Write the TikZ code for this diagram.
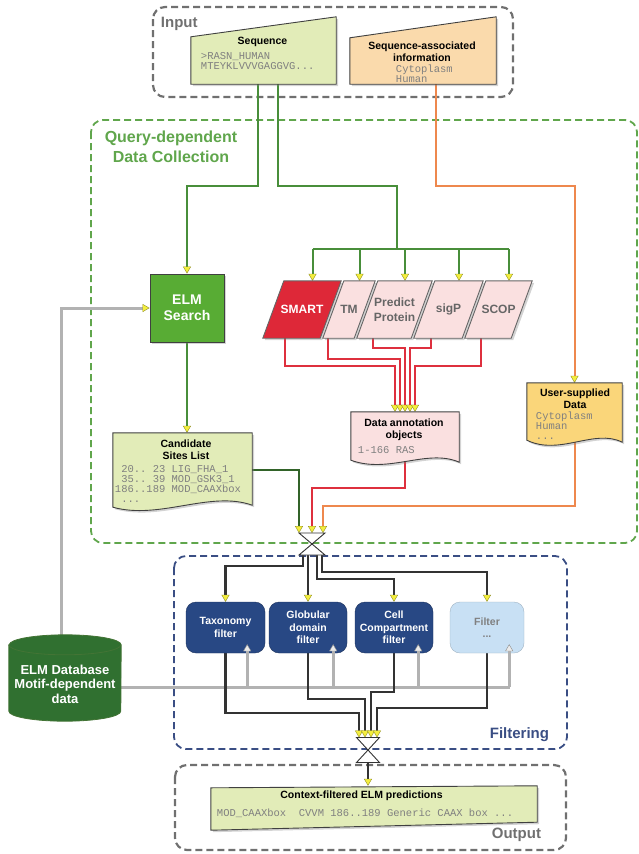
\documentclass[tikz,border=0pt]{standalone}
\usepackage{fontspec}
\setsansfont{Liberation Sans}
\setmonofont{Liberation Mono}
\usetikzlibrary{arrows.meta}
\usetikzlibrary{calc}
\usetikzlibrary{shadows}
\pgfdeclarelayer{bg}
\pgfdeclarelayer{shp}
\pgfsetlayers{bg,shp,main}

\definecolor{inGray}{RGB}{112,112,112}
\definecolor{qGreen}{RGB}{96,166,76}
\definecolor{fBlue}{RGB}{58,78,132}
\definecolor{lnGreen}{RGB}{72,142,58}
\definecolor{lnOrange}{RGB}{238,136,78}
\definecolor{lnRed}{RGB}{222,48,62}
\definecolor{tipYellow}{RGB}{244,238,62}
\definecolor{seqFill}{RGB}{226,236,184}
\definecolor{infoFill}{RGB}{250,218,172}
\definecolor{userFill}{RGB}{250,214,122}
\definecolor{pinkFill}{RGB}{250,224,224}
\definecolor{smartRed}{RGB}{222,40,56}
\definecolor{elmGreen}{RGB}{88,172,52}
\definecolor{dbGreen}{RGB}{48,112,48}
\definecolor{filtBlue}{RGB}{40,72,132}
\definecolor{filtLight}{RGB}{200,224,244}
\definecolor{monoGray}{RGB}{128,128,128}

\tikzset{
  every node/.style={inner sep=0.75pt},
  hd/.style={font=\sffamily\bfseries\fontsize{10.5}{12}\selectfont, align=center},
  mono/.style={font=\ttfamily\fontsize{10.5}{10}\selectfont, text=monoGray, anchor=west, align=left},
  section/.style={font=\sffamily\bfseries\fontsize{15}{19}\selectfont},
  area/.style={rounded corners=12pt, dash pattern=on 7pt off 4pt, line width=1.8pt},
  box/.style={draw=black!75, line width=0.9pt, drop shadow={shadow xshift=2pt, shadow yshift=-2pt, opacity=0.35}},
  tool/.style={minimum height=57, font=\sffamily\bfseries\fontsize{12}{14.5}\selectfont, text=black!60, align=center},
  filter/.style={draw=filtBlue!70!black, fill=filtBlue, rounded corners=10pt, minimum height=51,
    text=white, font=\sffamily\bfseries\fontsize{10.5}{12.5}\selectfont, align=center},
  junc/.style={draw=black!80, fill=white, line width=0.9pt},
  link/.style={line width=2pt},
  bline/.style={draw=black!80, line width=2.2pt},
  gline/.style={draw=black!30, line width=3pt},
  ytip/.style={-{Triangle[length=7pt, width=8pt, line width=0.4pt, color=tipYellow!60!black, fill=tipYellow]}},
  gtip/.style={-{Triangle[length=7pt, width=8pt, line width=0.4pt, color=black!45, fill=black!8]}}
}

\begin{document}
\begin{tikzpicture}[x=1pt,y=1pt,yscale=-1,xscale=1]
\useasboundingbox (0,0) rectangle (639,854);

% Input
\node[section, text=inGray, anchor=base west] (inlbl) at (160,27) {Input};
\node[minimum width=145, minimum height=67] (seq) at (263.5,50.5) {};
\node[hd] (seqtitle) at (262.5,42) {Sequence};
\node[mono] (seqtxt) at (200,61) {>RASN\_HUMAN\\MTEYKLVVVGAGGVG...};
\node[minimum width=146, minimum height=67] (info) at (423,50.5) {};
\node[hd] (infotitle) at (422,51.5) {Sequence-associated\\information};
\node[mono] (infotxt) at (395,74) {Cytoplasm\\Human};

% Query-dependent Data Collection
\node[section, font=\sffamily\bfseries\fontsize{16}{20}\selectfont, text=qGreen, align=center] (qlbl) at (171,147) {Query-dependent\\Data Collection};
\node[box, fill=elmGreen, minimum width=74, minimum height=68, text=white,
  font=\sffamily\bfseries\fontsize{14}{16}\selectfont, align=center] (elm) at (187,308) {ELM\\Search};
\node[tool, minimum width=57, text=white] (smart) at (302,309.5) {SMART};
\node[tool, minimum width=31] (tm) at (349,309.5) {TM};
\node[tool, minimum width=54] (pp) at (394.5,309.5) {Predict\\Protein};
\node[tool, minimum width=48] (sigp) at (448.5,309.5) {sigP};
\node[tool, minimum width=46] (scop) at (498.5,309.5) {SCOP};
\coordinate (dist) at ($(pp.north)+(2.5,-32)$);
\node[minimum width=108, minimum height=48] (annot) at (405,436) {};
\node[hd] (annottitle) at (404,430) {Data annotation\\objects};
\node[mono] (annottxt) at (357,450) {1-166 RAS};
\node[minimum width=139, minimum height=74] (cand) at (182.5,470) {};
\node[hd] (candtitle) at (186,450) {Candidate\\Sites List};
\node[mono] (candtxt) at (114,484) {~20..~23 LIG\_FHA\_1\\~35..~39 MOD\_GSK3\_1\\186..189 MOD\_CAAXbox\\~...};
\node[minimum width=95, minimum height=57] (user) at (574.5,411.5) {};
\node[hd] (usertitle) at (575,398.5) {User-supplied\\Data};
\node[mono] (usertxt) at (535,426) {Cytoplasm\\Human\\...};
\coordinate (j1) at (312,544);

% Filtering
\node[filter, minimum width=79] (taxo) at (225.5,627.5) {Taxonomy\\filter};
\node[filter, minimum width=78] (glob) at (308,627.5) {Globular\\domain\\filter};
\node[filter, minimum width=78] (cell) at (394,627.5) {Cell\\Compartment\\filter};
\node[filter, minimum width=74, fill=filtLight, draw=filtLight!80!black, text=black!50] (filt) at (487,627.5) {Filter\\...};
\node[section, text=fBlue, anchor=base east] (flbl) at (550,738) {Filtering};
\node[minimum width=112, minimum height=86] (db) at (65,678) {};
\node[text=white, font=\sffamily\bfseries\fontsize{13}{14.5}\selectfont, align=center] (dbtxt) at (65,684) {ELM Database\\Motif-dependent\\data};
\coordinate (j2) at (368,750);

% Output
\node[minimum width=326, minimum height=40] (out) at (374,806) {};
\node[hd] (outtitle) at (361.5,796) {Context-filtered ELM predictions};
\node[mono] (outtxt) at (216,813) {MOD\_CAAXbox~~CVVM 186..189 Generic CAAX box ...};
\node[section, text=inGray, anchor=base east] (olbl) at (542,838) {Output};

% gray arrows into the filters
\draw[gline, gtip] ($(taxo.south east)+(-18,34)$) -- ($(taxo.south east)+(-18,-9)$);
\draw[gline, gtip] ($(glob.south east)+(-14,34)$) -- ($(glob.south east)+(-14,-9)$);
\draw[gline, gtip] ($(cell.south east)+(-15,34)$) -- ($(cell.south east)+(-15,-9)$);
\draw[gline, gtip] ($(filt.south east)+(-15,34)$) -- ($(filt.south east)+(-15,-9)$);

\begin{pgfonlayer}{shp}
%Input shapes
\draw[box, fill=seqFill] (seq.south west) -- (seq.south east) -- (seq.north east) -- ($(seq.north west)+(0,20)$) -- cycle;
\draw[box, fill=infoFill] (info.south west) -- (info.south east) -- (info.north east) -- ($(info.north west)+(0,21)$) -- cycle;
%Tools
\draw[box, draw=black!60, fill=smartRed] ([xshift=10.5pt]smart.north west) -- ([xshift=10.5pt]smart.north east) -- ([xshift=-10.5pt]smart.south east) -- ([xshift=-10.5pt]smart.south west) -- cycle;
\draw[box, draw=black!60, fill=pinkFill] ([xshift=10.5pt]tm.north west) -- ([xshift=10.5pt]tm.north east) -- ([xshift=-10.5pt]tm.south east) -- ([xshift=-10.5pt]tm.south west) -- cycle;
\draw[box, draw=black!60, fill=pinkFill] ([xshift=10.5pt]pp.north west) -- ([xshift=10.5pt]pp.north east) -- ([xshift=-10.5pt]pp.south east) -- ([xshift=-10.5pt]pp.south west) -- cycle;
\draw[box, draw=black!60, fill=pinkFill] ([xshift=10.5pt]sigp.north west) -- ([xshift=10.5pt]sigp.north east) -- ([xshift=-10.5pt]sigp.south east) -- ([xshift=-10.5pt]sigp.south west) -- cycle;
\draw[box, draw=black!60, fill=pinkFill] ([xshift=10.5pt]scop.north west) -- ([xshift=10.5pt]scop.north east) -- ([xshift=-10.5pt]scop.south east) -- ([xshift=-10.5pt]scop.south west) -- cycle;
%Documents
\draw[box, fill=pinkFill] (annot.south west) -- (annot.north west) -- (annot.north east) -- ($(annot.south east)+(0,2)$) .. controls ($(annot.south east)+(-32,-12)$) and ($(annot.south west)+(38,14)$) .. (annot.south west) -- cycle;
\draw[box, fill=seqFill] (cand.south west) -- (cand.north west) -- (cand.north east) -- ($(cand.south east)+(0,-2)$) .. controls ($(cand.south east)+(-42,-17)$) and ($(cand.south west)+(47,13)$) .. (cand.south west) -- cycle;
\draw[box, fill=userFill] (user.south west) -- (user.north west) -- (user.north east) -- ($(user.south east)+(0,2)$) .. controls ($(user.south east)+(-28,-12)$) and ($(user.south west)+(33,16)$) .. (user.south west) -- cycle;
%Database
\draw[fill=dbGreen, draw=qGreen!70!black, line width=0.8pt] ($(db.north west)+(0,10)$) -- ($(db.south west)+(0,-10)$) arc[start angle=180, end angle=0, x radius=56, y radius=10] -- ($(db.north east)+(0,10)$) arc[start angle=0, end angle=-180, x radius=56, y radius=10] -- cycle;
\draw[draw=qGreen!70!black, line width=0.8pt] ($(db.north west)+(0,10)$) arc[start angle=180, end angle=0, x radius=56, y radius=10];
%Junctions
\draw[junc] ($(j1)+(-13,-11)$) -- ($(j1)+(13,-11)$) -- ($(j1)+(-13,11)$) -- ($(j1)+(13,11)$) -- cycle;
\draw[junc] ($(j2)+(-11.5,-12.5)$) -- ($(j2)+(11.5,-12.5)$) -- ($(j2)+(-11.5,12.5)$) -- ($(j2)+(11.5,12.5)$) -- cycle;
%Output
\draw[box, fill=seqFill] ($(out.north west)+(0,2)$) -- (out.north east) -- ($(out.south east)+(0,-4)$) -- ($(out.south west)+(0,4)$) -- cycle;
\end{pgfonlayer}

\begin{pgfonlayer}{bg}
%Areas
\draw[area, inGray, line width=2.2pt] (153,7) rectangle (513,97);
\draw[area, qGreen] (91,120) rectangle (637,543);
\draw[area, fBlue] (174,556) rectangle (567,749);
\draw[area, inGray, line width=2.2pt] (175,765) rectangle (566,850);

%Inputs to collection
\draw[link, lnGreen, ytip] ([xshift=-5.5pt]seq.south) -- ++(0,102) -| (elm.north);
\draw[link, lnGreen] ([xshift=14.5pt]seq.south) -- ++(0,102) -| (dist);
\draw[link, lnOrange, ytip] ([xshift=13pt]info.south) -- ++(0,102) -| (user.north);
\draw[link, lnGreen] ($(smart.north)+(10.5,-32)$) -- ($(scop.north)+(10.5,-32)$);
\draw[link, lnGreen, ytip] ($(smart.north)+(10.5,-32)$) -- ($(smart.north)+(10.5,0)$);
\draw[link, lnGreen, ytip] ($(tm.north)+(10.5,-32)$) -- ($(tm.north)+(10.5,0)$);
\draw[link, lnGreen, ytip] ($(pp.north)+(10.5,-32)$) -- ($(pp.north)+(10.5,0)$);
\draw[link, lnGreen, ytip] ($(sigp.north)+(10.5,-32)$) -- ($(sigp.north)+(10.5,0)$);
\draw[link, lnGreen, ytip] ($(scop.north)+(10.5,-32)$) -- ($(scop.north)+(10.5,0)$);

%Tools to annotation objects
\draw[link, lnRed, ytip] ([xshift=-17pt]smart.south) |- ($(annot.north)+(-10,-46)$) -- ($(annot.north)+(-10,0)$);
\draw[link, lnRed, ytip] ([xshift=-21pt]tm.south) |- ($(annot.north)+(-5,-53)$) -- ($(annot.north)+(-5,0)$);
\draw[link, lnRed, ytip] ([xshift=-22pt]pp.south) |- ($(annot.north)+(0,-64)$) -- ($(annot.north)+(0,0)$);
\draw[link, lnRed, ytip] ([xshift=-18pt]sigp.south) |- ($(annot.north)+(5,-64)$) -- ($(annot.north)+(5,0)$);
\draw[link, lnRed, ytip] ([xshift=-18pt]scop.south) |- ($(annot.north)+(10,-46)$) -- ($(annot.north)+(10,0)$);

%Search and collection to junction
\draw[link, lnGreen, ytip] (elm.south) -- (elm.south |- cand.north);
\draw[link, lnGreen!70!black, ytip] (cand.east) -| ($(j1)+(-13,-11)$);
\draw[link, lnRed, ytip] (annot.south) -- ++(0,28) -| ($(j1)+(0,-11)$);
\draw[link, lnOrange, ytip] (user.south) -- ++(0,66) -| ($(j1)+(11,-11)$);

%Database
\draw[gline, ytip] ($(db.north)+(-4,0)$) |- (elm.west);
\draw[gline] ($(db.east)+(0,9)$) -- ++(389,0);

%Filtering
\draw[bline, ytip] ($(j1)+(-9,11)$) -- ++(0,11) -| (taxo.north);
\draw[bline, ytip] ($(j1)+(-4,11)$) -- (glob.north);
\draw[bline, ytip] ($(j1)+(5,11)$) -- ++(0,24) -| (cell.north);
\draw[bline, ytip] ($(j1)+(10,11)$) -- ++(0,17) -| (filt.north);
\draw[bline, ytip] (taxo.south) |- ($(j2)+(-9,-37)$) -- ($(j2)+(-9,-12.5)$);
\draw[bline, ytip] (glob.south) |- ($(j2)+(-3,-51)$) -- ($(j2)+(-3,-12.5)$);
\draw[bline, ytip] (cell.south) |- ($(j2)+(3,-58)$) -- ($(j2)+(3,-12.5)$);
\draw[bline, ytip] (filt.south) |- ($(j2)+(9,-42)$) -- ($(j2)+(9,-12.5)$);
\draw[bline, ytip] ($(j2)+(0,12.5)$) -- ($(out.north)+(-6,0)$);
\end{pgfonlayer}

\end{tikzpicture}
\end{document}
